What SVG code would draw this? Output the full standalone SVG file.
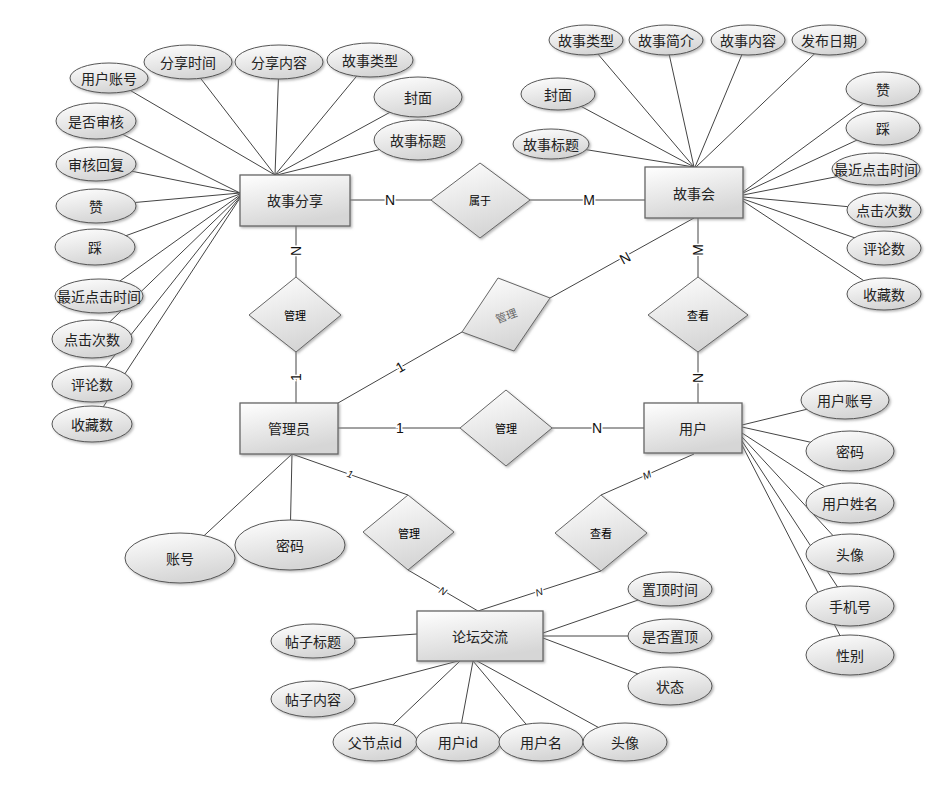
<svg xmlns="http://www.w3.org/2000/svg" width="948" height="810" viewBox="0 0 948 810">
<defs>
<linearGradient id="g" x1="0" y1="0" x2="0.35" y2="1"><stop offset="0" stop-color="#ffffff"/><stop offset="1" stop-color="#d6d6d6"/></linearGradient>
<filter id="sh" x="-10%" y="-10%" width="130%" height="140%"><feDropShadow dx="1.5" dy="1.5" stdDeviation="0.8" flood-color="#888" flood-opacity="0.6"/></filter>
<style>
.e ellipse{fill:url(#g);stroke:#555;stroke-width:1;filter:url(#sh)}
.n rect{fill:url(#g);stroke:#666;stroke-width:1.3;filter:url(#sh)}
.r polygon{fill:url(#g);stroke:#666;stroke-width:1;filter:url(#sh)}
text{font-family:"Noto Sans CJK SC","Liberation Sans",sans-serif;text-anchor:middle;dominant-baseline:central}
.e text{font-size:14px;fill:#222}
.n text{font-size:14px;fill:#222}
.r text{font-size:11px;fill:#000}
#links line{stroke:#444;stroke-width:1}
.c{font-family:"Liberation Sans",sans-serif;font-size:14px;fill:#111;stroke:#fff;stroke-width:3;paint-order:stroke}
.cs{font-family:"Liberation Sans",sans-serif;font-size:10px;font-style:italic;fill:#111;stroke:#fff;stroke-width:3;paint-order:stroke}
</style>
</defs>
<rect width="948" height="810" fill="#fff"/>
<g id="links">
<!-- 故事分享 attrs -->
<line x1="275" y1="175" x2="109" y2="78"/>
<line x1="275" y1="175" x2="188" y2="62"/>
<line x1="275" y1="175" x2="279" y2="62"/>
<line x1="275" y1="175" x2="370" y2="60"/>
<line x1="275" y1="175" x2="418" y2="97"/>
<line x1="277" y1="175" x2="418" y2="140"/>
<line x1="240" y1="193" x2="96" y2="121"/>
<line x1="240" y1="193" x2="96" y2="164"/>
<line x1="240" y1="193" x2="96" y2="206"/>
<line x1="240" y1="194" x2="95" y2="247"/>
<line x1="240" y1="195" x2="99" y2="296"/>
<line x1="240" y1="196" x2="92" y2="339"/>
<line x1="240" y1="197" x2="92" y2="384"/>
<line x1="240" y1="198" x2="92" y2="424"/>
<!-- 故事会 attrs -->
<line x1="694" y1="167" x2="586" y2="40"/>
<line x1="694" y1="167" x2="666" y2="40"/>
<line x1="695" y1="167" x2="748" y2="40"/>
<line x1="696" y1="167" x2="829" y2="40"/>
<line x1="694" y1="167" x2="558" y2="94"/>
<line x1="694" y1="167" x2="551" y2="144"/>
<line x1="743" y1="192" x2="883" y2="89"/>
<line x1="743" y1="193" x2="883" y2="128"/>
<line x1="743" y1="195" x2="876" y2="169"/>
<line x1="743" y1="197" x2="884" y2="210"/>
<line x1="743" y1="199" x2="884" y2="248"/>
<line x1="743" y1="201" x2="884" y2="294"/>
<!-- 用户 attrs -->
<line x1="742" y1="425" x2="845" y2="400"/>
<line x1="742" y1="427" x2="850" y2="451"/>
<line x1="742" y1="433" x2="850" y2="503"/>
<line x1="742" y1="437" x2="850" y2="554"/>
<line x1="742" y1="441" x2="850" y2="606"/>
<line x1="742" y1="445" x2="850" y2="655"/>
<!-- 管理员 attrs -->
<line x1="292" y1="454" x2="180" y2="558"/>
<line x1="292" y1="454" x2="290" y2="545"/>
<!-- 论坛交流 attrs -->
<line x1="543" y1="633" x2="670" y2="589"/>
<line x1="543" y1="636" x2="670" y2="636"/>
<line x1="543" y1="638" x2="670" y2="686"/>
<line x1="417" y1="634" x2="313" y2="641"/>
<line x1="458" y1="661" x2="313" y2="699"/>
<line x1="460" y1="661" x2="375" y2="742"/>
<line x1="473" y1="661" x2="458" y2="742"/>
<line x1="473" y1="661" x2="541" y2="742"/>
<line x1="477" y1="661" x2="625" y2="742"/>
<!-- relationships -->
<line x1="350" y1="200" x2="431" y2="200"/>
<line x1="530" y1="200" x2="645" y2="200"/>
<line x1="296" y1="226" x2="296" y2="277"/>
<line x1="296" y1="352" x2="296" y2="403"/>
<line x1="338" y1="403" x2="462" y2="332"/>
<line x1="550" y1="298" x2="694" y2="218"/>
<line x1="698" y1="218" x2="698" y2="277"/>
<line x1="698" y1="352" x2="698" y2="403"/>
<line x1="338" y1="428" x2="460" y2="428"/>
<line x1="552" y1="428" x2="644" y2="428"/>
<line x1="292" y1="454" x2="408" y2="495"/>
<line x1="408" y1="570" x2="478" y2="611"/>
<line x1="694" y1="454" x2="601" y2="495"/>
<line x1="601" y1="571" x2="478" y2="611"/>
<!-- cardinalities -->
<text class="c" x="390" y="200">N</text>
<text class="c" x="589" y="200">M</text>
<text class="c" transform="translate(296 251) rotate(-90)">N</text>
<text class="c" transform="translate(296 377) rotate(-90)">1</text>
<text class="c" transform="translate(400 367) rotate(-30)">1</text>
<text class="c" transform="translate(625 258) rotate(-29)">N</text>
<text class="c" transform="translate(698 250) rotate(-90)">M</text>
<text class="c" transform="translate(698 378) rotate(-90)">N</text>
<text class="c" x="400" y="428">1</text>
<text class="c" x="597" y="428">N</text>
<text class="cs" transform="translate(350 474) rotate(19)">1</text>
<text class="cs" transform="translate(443 591) rotate(30)">N</text>
<text class="cs" transform="translate(647 475) rotate(-24)">M</text>
<text class="cs" transform="translate(539 592) rotate(-18)">N</text>
</g>
<!-- entities -->
<g id="gushifenxiang" class="n"><rect x="240" y="175" width="110" height="51"/><text x="295" y="200">故事分享</text></g>
<g id="gushihui" class="n"><rect x="645" y="167" width="98" height="51"/><text x="694" y="193">故事会</text></g>
<g id="guanliyuan" class="n"><rect x="240" y="403" width="98" height="51"/><text x="289" y="428">管理员</text></g>
<g id="yonghu" class="n"><rect x="644" y="403" width="98" height="50"/><text x="693" y="428">用户</text></g>
<g id="luntan" class="n"><rect x="417" y="611" width="126" height="50"/><text x="480" y="636">论坛交流</text></g>
<!-- relationships -->
<g id="r-shuyu" class="r"><polygon points="431,200 480,163 530,200 480,238"/><text x="480" y="200">属于</text></g>
<g id="r-guanli1" class="r"><polygon points="249,315 296,277 341,315 296,352"/><text x="295" y="315">管理</text></g>
<g id="r-guanli2" class="r"><polygon points="498,278 550,298 514,351 462,332"/><text transform="translate(506 315) rotate(-21)" style="fill:#666">管理</text></g>
<g id="r-chakan1" class="r"><polygon points="648,315 698,277 748,315 698,352"/><text x="698" y="315">查看</text></g>
<g id="r-guanli3" class="r"><polygon points="460,428 506,390 552,428 506,466"/><text x="506" y="428">管理</text></g>
<g id="r-guanli4" class="r"><polygon points="363,532 408,495 454,532 408,570"/><text x="409" y="533">管理</text></g>
<g id="r-chakan2" class="r"><polygon points="555,533 601,495 647,533 601,571"/><text x="601" y="533">查看</text></g>
<!-- attributes 故事分享 -->
<g id="a1" class="e"><ellipse cx="109" cy="78" rx="39" ry="15"/><text x="109" y="78">用户账号</text></g>
<g id="a2" class="e"><ellipse cx="188" cy="62" rx="44" ry="17"/><text x="188" y="62">分享时间</text></g>
<g id="a3" class="e"><ellipse cx="279" cy="62" rx="44" ry="17"/><text x="279" y="62">分享内容</text></g>
<g id="a4" class="e"><ellipse cx="370" cy="60" rx="43" ry="17"/><text x="370" y="60">故事类型</text></g>
<g id="a5" class="e"><ellipse cx="418" cy="97" rx="44" ry="20"/><text x="418" y="97">封面</text></g>
<g id="a6" class="e"><ellipse cx="418" cy="140" rx="44" ry="20"/><text x="418" y="140">故事标题</text></g>
<g id="a7" class="e"><ellipse cx="96" cy="121" rx="40" ry="18"/><text x="96" y="121">是否审核</text></g>
<g id="a8" class="e"><ellipse cx="96" cy="164" rx="40" ry="17"/><text x="96" y="164">审核回复</text></g>
<g id="a9" class="e"><ellipse cx="96" cy="206" rx="40" ry="17"/><text x="96" y="206">赞</text></g>
<g id="a10" class="e"><ellipse cx="95" cy="247" rx="40" ry="18"/><text x="95" y="247">踩</text></g>
<g id="a11" class="e"><ellipse cx="99" cy="296" rx="44" ry="17"/><text x="99" y="296">最近点击时间</text></g>
<g id="a12" class="e"><ellipse cx="92" cy="339" rx="40" ry="19"/><text x="92" y="339">点击次数</text></g>
<g id="a13" class="e"><ellipse cx="92" cy="384" rx="40" ry="18"/><text x="92" y="384">评论数</text></g>
<g id="a14" class="e"><ellipse cx="92" cy="424" rx="40" ry="18"/><text x="92" y="424">收藏数</text></g>
<!-- attributes 故事会 -->
<g id="b1" class="e"><ellipse cx="586" cy="40" rx="37" ry="15"/><text x="586" y="40">故事类型</text></g>
<g id="b2" class="e"><ellipse cx="666" cy="40" rx="37" ry="15"/><text x="666" y="40">故事简介</text></g>
<g id="b3" class="e"><ellipse cx="748" cy="40" rx="37" ry="15"/><text x="748" y="40">故事内容</text></g>
<g id="b4" class="e"><ellipse cx="829" cy="40" rx="37" ry="15"/><text x="829" y="40">发布日期</text></g>
<g id="b5" class="e"><ellipse cx="558" cy="94" rx="37" ry="16"/><text x="558" y="94">封面</text></g>
<g id="b6" class="e"><ellipse cx="551" cy="144" rx="38" ry="15"/><text x="551" y="144">故事标题</text></g>
<g id="b7" class="e"><ellipse cx="883" cy="89" rx="37" ry="17"/><text x="883" y="89">赞</text></g>
<g id="b8" class="e"><ellipse cx="883" cy="128" rx="37" ry="17"/><text x="883" y="128">踩</text></g>
<g id="b9" class="e"><ellipse cx="876" cy="169" rx="44" ry="16"/><text x="876" y="169">最近点击时间</text></g>
<g id="b10" class="e"><ellipse cx="884" cy="210" rx="37" ry="17"/><text x="884" y="210">点击次数</text></g>
<g id="b11" class="e"><ellipse cx="884" cy="248" rx="37" ry="17"/><text x="884" y="248">评论数</text></g>
<g id="b12" class="e"><ellipse cx="884" cy="294" rx="37" ry="16"/><text x="884" y="294">收藏数</text></g>
<!-- attributes 用户 -->
<g id="c1" class="e"><ellipse cx="845" cy="400" rx="44" ry="19"/><text x="845" y="400">用户账号</text></g>
<g id="c2" class="e"><ellipse cx="850" cy="451" rx="44" ry="20"/><text x="850" y="451">密码</text></g>
<g id="c3" class="e"><ellipse cx="850" cy="503" rx="44" ry="20"/><text x="850" y="503">用户姓名</text></g>
<g id="c4" class="e"><ellipse cx="850" cy="554" rx="44" ry="20"/><text x="850" y="554">头像</text></g>
<g id="c5" class="e"><ellipse cx="850" cy="606" rx="44" ry="20"/><text x="850" y="606">手机号</text></g>
<g id="c6" class="e"><ellipse cx="850" cy="655" rx="44" ry="20"/><text x="850" y="655">性别</text></g>
<!-- attributes 管理员 -->
<g id="d1" class="e"><ellipse cx="180" cy="558" rx="55" ry="25"/><text x="180" y="558">账号</text></g>
<g id="d2" class="e"><ellipse cx="290" cy="545" rx="55" ry="25"/><text x="290" y="545">密码</text></g>
<!-- attributes 论坛交流 -->
<g id="f1" class="e"><ellipse cx="670" cy="589" rx="42" ry="17"/><text x="670" y="589">置顶时间</text></g>
<g id="f2" class="e"><ellipse cx="670" cy="636" rx="42" ry="17"/><text x="670" y="636">是否置顶</text></g>
<g id="f3" class="e"><ellipse cx="670" cy="686" rx="42" ry="19"/><text x="670" y="686">状态</text></g>
<g id="f4" class="e"><ellipse cx="313" cy="641" rx="42" ry="17"/><text x="313" y="641">帖子标题</text></g>
<g id="f5" class="e"><ellipse cx="313" cy="699" rx="42" ry="18"/><text x="313" y="699">帖子内容</text></g>
<g id="f6" class="e"><ellipse cx="375" cy="742" rx="42" ry="19"/><text x="375" y="742">父节点id</text></g>
<g id="f7" class="e"><ellipse cx="458" cy="742" rx="42" ry="19"/><text x="458" y="742">用户id</text></g>
<g id="f8" class="e"><ellipse cx="541" cy="742" rx="42" ry="19"/><text x="541" y="742">用户名</text></g>
<g id="f9" class="e"><ellipse cx="625" cy="742" rx="42" ry="19"/><text x="625" y="742">头像</text></g>
</svg>
